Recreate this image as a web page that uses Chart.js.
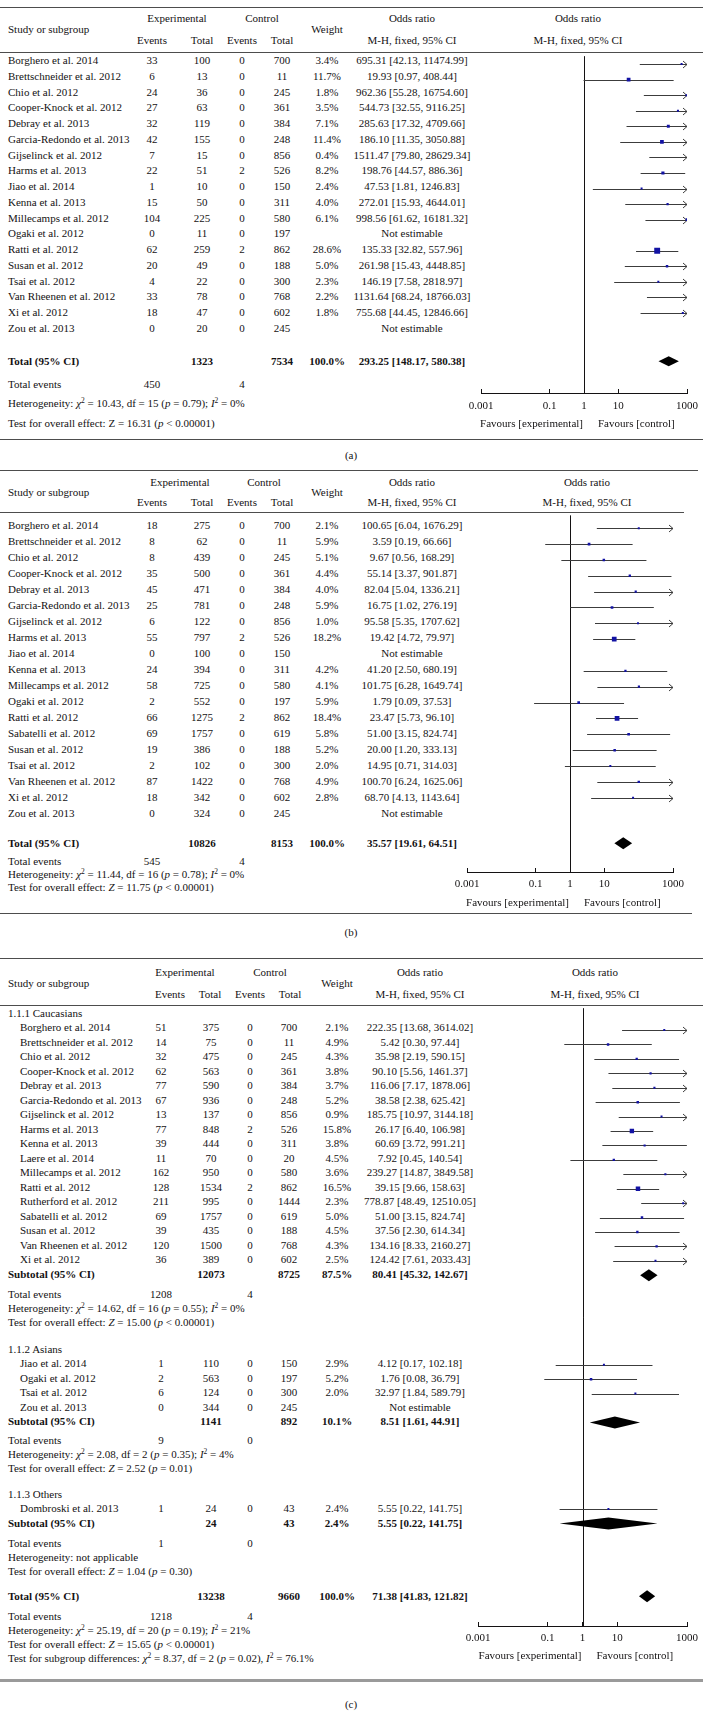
<!DOCTYPE html>
<html>
<head>
<meta charset="utf-8">
<script src="https://cdn.jsdelivr.net/npm/chart.js@4.4.1/dist/chart.umd.min.js"></script>
<style>
body{margin:0;background:#fff}
#page{position:relative;width:703px;height:1714px;overflow:hidden;background:#fff}
.t{position:absolute;font-family:"Liberation Serif",serif;font-size:11px;line-height:16px;height:16px;white-space:nowrap;color:#141213}
.t.b{font-weight:bold}
.t sup{font-size:7.5px;line-height:0;vertical-align:4px}
.rule{position:absolute}
canvas{position:absolute}
</style>
</head>
<body>
<div id="page"></div>
<script>
var tickLabels = [0.001, 0.1, 1, 10, 1000]

// (a)
var aStudy = ['Borghero et al. 2014', 'Brettschneider et al. 2012', 'Chio et al. 2012', 'Cooper-Knock et al. 2012',
  'Debray et al. 2013', 'Garcia-Redondo et al. 2013', 'Gijselinck et al. 2012', 'Harms et al. 2013', 'Jiao et al. 2014',
  'Kenna et al. 2013', 'Millecamps et al. 2012', 'Ogaki et al. 2012', 'Ratti et al. 2012', 'Susan et al. 2012',
  'Tsai et al. 2012', 'Van Rheenen et al. 2012', 'Xi et al. 2012', 'Zou et al. 2013']
var aExpEvents = [33, 6, 24, 27, 32, 42, 7, 22, 1, 15, 104, 0, 62, 20, 4, 33, 18, 0]
var aExpTotal = [100, 13, 36, 63, 119, 155, 15, 51, 10, 50, 225, 11, 259, 49, 22, 78, 47, 20]
var aCtlEvents = [0, 0, 0, 0, 0, 0, 0, 2, 0, 0, 0, 0, 2, 0, 0, 0, 0, 0]
var aCtlTotal = [700, 11, 245, 361, 384, 248, 856, 526, 150, 311, 580, 197, 862, 188, 300, 768, 602, 245]
var aWeight = [3.4, 11.7, 1.8, 3.5, 7.1, 11.4, 0.4, 8.2, 2.4, 4.0, 6.1, null, 28.6, 5.0, 2.3, 2.2, 1.8, null]
var aOR = [695.31, 19.93, 962.36, 544.73, 285.63, 186.10, 1511.47, 198.76, 47.53, 272.01, 998.56, null, 135.33, 261.98, 146.19, 1131.64, 755.68, null]
var aLow = [42.13, 0.97, 55.28, 32.55, 17.32, 11.35, 79.80, 44.57, 1.81, 15.93, 61.62, null, 32.82, 15.43, 7.58, 68.24, 44.45, null]
var aHigh = [11474.99, 408.44, 16754.60, 9116.25, 4709.66, 3050.88, 28629.34, 886.36, 1246.83, 4644.01, 16181.32, null, 557.96, 4448.85, 2818.97, 18766.03, 12846.66, null]
var aSumLabel = ['Total (95% CI)']
var aSumExp = [1323]
var aSumCtl = [7534]
var aSumWeight = [100.0]
var aSumOR = [293.25]
var aSumLow = [148.17]
var aSumHigh = [580.38]
var aSumEvExp = [450]
var aSumEvCtl = [4]
var aHetero = ['Heterogeneity: <i>χ</i><sup>2</sup> = 10.43, df = 15 (<i>p</i> = 0.79); <i>I</i><sup>2</sup> = 0%']
var aEffect = ['Test for overall effect: Z = 16.31 (<i>p</i> &lt; 0.00001)']

// (b)
var bStudy = ['Borghero et al. 2014', 'Brettschneider et al. 2012', 'Chio et al. 2012', 'Cooper-Knock et al. 2012',
  'Debray et al. 2013', 'Garcia-Redondo et al. 2013', 'Gijselinck et al. 2012', 'Harms et al. 2013', 'Jiao et al. 2014',
  'Kenna et al. 2013', 'Millecamps et al. 2012', 'Ogaki et al. 2012', 'Ratti et al. 2012', 'Sabatelli et al. 2012',
  'Susan et al. 2012', 'Tsai et al. 2012', 'Van Rheenen et al. 2012', 'Xi et al. 2012', 'Zou et al. 2013']
var bExpEvents = [18, 8, 8, 35, 45, 25, 6, 55, 0, 24, 58, 2, 66, 69, 19, 2, 87, 18, 0]
var bExpTotal = [275, 62, 439, 500, 471, 781, 122, 797, 100, 394, 725, 552, 1275, 1757, 386, 102, 1422, 342, 324]
var bCtlEvents = [0, 0, 0, 0, 0, 0, 0, 2, 0, 0, 0, 0, 2, 0, 0, 0, 0, 0, 0]
var bCtlTotal = [700, 11, 245, 361, 384, 248, 856, 526, 150, 311, 580, 197, 862, 619, 188, 300, 768, 602, 245]
var bWeight = [2.1, 5.9, 5.1, 4.4, 4.0, 5.9, 1.0, 18.2, null, 4.2, 4.1, 5.9, 18.4, 5.8, 5.2, 2.0, 4.9, 2.8, null]
var bOR = [100.65, 3.59, 9.67, 55.14, 82.04, 16.75, 95.58, 19.42, null, 41.20, 101.75, 1.79, 23.47, 51.00, 20.00, 14.95, 100.70, 68.70, null]
var bLow = [6.04, 0.19, 0.56, 3.37, 5.04, 1.02, 5.35, 4.72, null, 2.50, 6.28, 0.09, 5.73, 3.15, 1.20, 0.71, 6.24, 4.13, null]
var bHigh = [1676.29, 66.66, 168.29, 901.87, 1336.21, 276.19, 1707.62, 79.97, null, 680.19, 1649.74, 37.53, 96.10, 824.74, 333.13, 314.03, 1625.06, 1143.64, null]
var bSumLabel = ['Total (95% CI)']
var bSumExp = [10826]
var bSumCtl = [8153]
var bSumWeight = [100.0]
var bSumOR = [35.57]
var bSumLow = [19.61]
var bSumHigh = [64.51]
var bSumEvExp = [545]
var bSumEvCtl = [4]
var bHetero = ['Heterogeneity: <i>χ</i><sup>2</sup> = 11.44, df = 16 (<i>p</i> = 0.78); <i>I</i><sup>2</sup> = 0%']
var bEffect = ['Test for overall effect: <i>Z</i> = 11.75 (<i>p</i> &lt; 0.00001)']

// (c)
var cGroupName = ['1.1.1 Caucasians', '1.1.2 Asians', '1.1.3 Others']
var cGroup = [0, 0, 0, 0, 0, 0, 0, 0, 0, 0, 0, 0, 0, 0, 0, 0, 0, 1, 1, 1, 1, 2]
var cStudy = ['Borghero et al. 2014', 'Brettschneider et al. 2012', 'Chio et al. 2012', 'Cooper-Knock et al. 2012',
  'Debray et al. 2013', 'Garcia-Redondo et al. 2013', 'Gijselinck et al. 2012', 'Harms et al. 2013', 'Kenna et al. 2013',
  'Laere et al. 2014', 'Millecamps et al. 2012', 'Ratti et al. 2012', 'Rutherford et al. 2012', 'Sabatelli et al. 2012',
  'Susan et al. 2012', 'Van Rheenen et al. 2012', 'Xi et al. 2012',
  'Jiao et al. 2014', 'Ogaki et al. 2012', 'Tsai et al. 2012', 'Zou et al. 2013',
  'Dombroski et al. 2013']
var cExpEvents = [51, 14, 32, 62, 77, 67, 13, 77, 39, 11, 162, 128, 211, 69, 39, 120, 36, 1, 2, 6, 0, 1]
var cExpTotal = [375, 75, 475, 563, 590, 936, 137, 848, 444, 70, 950, 1534, 995, 1757, 435, 1500, 389, 110, 563, 124, 344, 24]
var cCtlEvents = [0, 0, 0, 0, 0, 0, 0, 2, 0, 0, 0, 2, 0, 0, 0, 0, 0, 0, 0, 0, 0, 0]
var cCtlTotal = [700, 11, 245, 361, 384, 248, 856, 526, 311, 20, 580, 862, 1444, 619, 188, 768, 602, 150, 197, 300, 245, 43]
var cWeight = [2.1, 4.9, 4.3, 3.8, 3.7, 5.2, 0.9, 15.8, 3.8, 4.5, 3.6, 16.5, 2.3, 5.0, 4.5, 4.3, 2.5, 2.9, 5.2, 2.0, null, 2.4]
var cOR = [222.35, 5.42, 35.98, 90.10, 116.06, 38.58, 185.75, 26.17, 60.69, 7.92, 239.27, 39.15, 778.87, 51.00, 37.56, 134.16, 124.42, 4.12, 1.76, 32.97, null, 5.55]
var cLow = [13.68, 0.30, 2.19, 5.56, 7.17, 2.38, 10.97, 6.40, 3.72, 0.45, 14.87, 9.66, 48.49, 3.15, 2.30, 8.33, 7.61, 0.17, 0.08, 1.84, null, 0.22]
var cHigh = [3614.02, 97.44, 590.15, 1461.37, 1878.06, 625.42, 3144.18, 106.98, 991.21, 140.54, 3849.58, 158.63, 12510.05, 824.74, 614.34, 2160.27, 2033.43, 102.18, 36.79, 589.79, null, 141.75]
var cSumLabel = ['Subtotal (95% CI)', 'Subtotal (95% CI)', 'Subtotal (95% CI)', 'Total (95% CI)']
var cSumExp = [12073, 1141, 24, 13238]
var cSumCtl = [8725, 892, 43, 9660]
var cSumWeight = [87.5, 10.1, 2.4, 100.0]
var cSumOR = [80.41, 8.51, 5.55, 71.38]
var cSumLow = [45.32, 1.61, 0.22, 41.83]
var cSumHigh = [142.67, 44.91, 141.75, 121.82]
var cSumEvExp = [1208, 9, 1, 1218]
var cSumEvCtl = [4, 0, 0, 4]
var cHetero = ['Heterogeneity: <i>χ</i><sup>2</sup> = 14.62, df = 16 (<i>p</i> = 0.55); <i>I</i><sup>2</sup> = 0%',
  'Heterogeneity: <i>χ</i><sup>2</sup> = 2.08, df = 2 (<i>p</i> = 0.35); <i>I</i><sup>2</sup> = 4%',
  'Heterogeneity: not applicable',
  'Heterogeneity: <i>χ</i><sup>2</sup> = 25.19, df = 20 (<i>p</i> = 0.19); <i>I</i><sup>2</sup> = 21%']
var cEffect = ['Test for overall effect: <i>Z</i> = 15.00 (<i>p</i> &lt; 0.00001)',
  'Test for overall effect: <i>Z</i> = 2.52 (<i>p</i> = 0.01)',
  'Test for overall effect: <i>Z</i> = 1.04 (<i>p</i> = 0.30)',
  'Test for overall effect: <i>Z</i> = 15.65 (<i>p</i> &lt; 0.00001)']
var cSubgroupTest = 'Test for subgroup differences: <i>χ</i><sup>2</sup> = 8.37, df = 2 (<i>p</i> = 0.02), <i>I</i><sup>2</sup> = 76.1%'

var INK = '#141213'
var page = document.getElementById('page')

function put(html, x, y, align, bold) {
  var d = document.createElement('div')
  d.className = bold ? 't b' : 't'
  d.innerHTML = html
  d.style.top = (y - 8) + 'px'
  if (align == 'c') {
    d.style.left = (x - 150) + 'px'; d.style.width = '300px'; d.style.textAlign = 'center'
  } else if (align == 'r') {
    d.style.left = (x - 300) + 'px'; d.style.width = '300px'; d.style.textAlign = 'right'
  } else {
    d.style.left = x + 'px'
  }
  page.appendChild(d)
}

function hline(y, x0, x1, h, color) {
  var d = document.createElement('div')
  d.className = 'rule'
  d.style.top = Math.round(y) + 'px'
  d.style.left = x0 + 'px'
  d.style.width = (x1 - x0) + 'px'
  d.style.height = (h || 1) + 'px'
  d.style.background = color || '#4d4d4d'
  page.appendChild(d)
}

function pct(w) { return w.toFixed(1) + '%' }
function ciText(or, lo, hi) { return or.toFixed(2) + ' [' + lo.toFixed(2) + ', ' + hi.toFixed(2) + ']' }
function squareSide(w) { return Math.max(2, 1.1 * Math.sqrt(w)) }

function forestPlugin(cis, diamonds, half) {
  return {
    id: 'forest',
    beforeDatasetsDraw: function(chart) {
      var xs = chart.scales.x, ys = chart.scales.y, ctx = chart.ctx, area = chart.chartArea
      ctx.save()
      ctx.lineWidth = 1
      var x1 = Math.round(xs.getPixelForValue(1)) + 0.5
      ctx.strokeStyle = INK
      ctx.beginPath(); ctx.moveTo(x1, area.top); ctx.lineTo(x1, area.bottom); ctx.stroke()
      ctx.strokeStyle = '#3c3c3c'
      cis.forEach(function(c) {
        var y = Math.round(ys.getPixelForValue(c.y)) + 0.5
        var xa = xs.getPixelForValue(Math.max(c.lo, xs.min))
        var xb = xs.getPixelForValue(Math.min(c.hi, xs.max))
        ctx.beginPath()
        ctx.moveTo(xa, y); ctx.lineTo(xb, y)
        if (c.hi > xs.max) {
          ctx.moveTo(xb - 4, y - 3.5); ctx.lineTo(xb, y); ctx.lineTo(xb - 4, y + 3.5)
        }
        ctx.stroke()
      })
      ctx.fillStyle = '#000'
      diamonds.forEach(function(d) {
        var y = ys.getPixelForValue(d.y)
        ctx.beginPath()
        ctx.moveTo(xs.getPixelForValue(d.lo), y)
        ctx.lineTo(xs.getPixelForValue(d.or), y - half)
        ctx.lineTo(xs.getPixelForValue(d.hi), y)
        ctx.lineTo(xs.getPixelForValue(d.or), y + half)
        ctx.closePath()
        ctx.fill()
      })
      ctx.restore()
    }
  }
}

function drawPanel(p) {
  var L = p.layout
  var rowY = function(s) { return L.base + s * L.pitch }
  var slotOf = function(y) { return (y - L.base) / L.pitch }
  var c = L.cols, h = L.hcols

  hline(L.top, 0, L.topEnd)
  put('Experimental', L.hExp, L.hy[0], 'c')
  put('Control', L.hCtl, L.hy[0], 'c')
  put('Odds ratio', c[5], L.hy[0], 'c')
  put('Odds ratio', L.hOr2, L.hy[0], 'c')
  put('Study or subgroup', 8, L.hy[1])
  put('Weight', h[4], L.hy[1], 'c')
  put('Events', h[0], L.hy[2], 'c')
  put('Total', h[1], L.hy[2], 'c')
  put('Events', h[2], L.hy[2], 'c')
  put('Total', h[3], L.hy[2], 'c')
  put('M-H, fixed, 95% CI', c[5], L.hy[2], 'c')
  put('M-H, fixed, 95% CI', L.hOr2, L.hy[2], 'c')
  hline(L.rule, 0, L.ruleEnd)

  var slots = [], sumSlots = []
  if (p.group) {
    L.groupSlot.forEach(function(gs, g) {
      put(p.groupName[g], 8, rowY(gs))
      var k = 0
      p.group.forEach(function(gi, i) {
        if (gi == g) { slots[i] = gs + 1 + k; k++ }
      })
      sumSlots.push(gs + 1 + k)
    })
  } else {
    p.study.forEach(function(s, i) { slots[i] = i })
  }
  sumSlots.push(L.totalSlot)

  var pts = [], radii = [], cis = [], diamonds = []
  p.study.forEach(function(name, i) {
    var y = rowY(slots[i])
    put(name, L.nameX, y)
    put(p.expEvents[i], c[0], y, 'c')
    put(p.expTotal[i], c[1], y, 'c')
    put(p.ctlEvents[i], c[2], y, 'c')
    put(p.ctlTotal[i], c[3], y, 'c')
    if (p.or[i] == null) {
      put('Not estimable', c[5], y, 'c')
      return
    }
    put(pct(p.weight[i]), c[4], y, 'c')
    put(ciText(p.or[i], p.low[i], p.high[i]), c[5], y, 'c')
    pts.push({ x: p.or[i], y: slots[i] })
    radii.push(squareSide(p.weight[i]) / Math.SQRT2)
    cis.push({ y: slots[i], lo: p.low[i], hi: p.high[i] })
  })

  p.sumLabel.forEach(function(lab, j) {
    var y = rowY(sumSlots[j])
    put(lab, 8, y, null, true)
    put(p.sumExp[j], c[1], y, 'c', true)
    put(p.sumCtl[j], c[3], y, 'c', true)
    put(pct(p.sumWeight[j]), c[4], y, 'c', true)
    put(ciText(p.sumOR[j], p.sumLow[j], p.sumHigh[j]), c[5], y, 'c', true)
    diamonds.push({ y: sumSlots[j], or: p.sumOR[j], lo: p.sumLow[j], hi: p.sumHigh[j] })
    var f = L.foot[j]
    put('Total events', 8, f[0])
    put(p.sumEvExp[j], c[0], f[0], 'c')
    put(p.sumEvCtl[j], c[2], f[0], 'c')
    put(p.hetero[j], 8, f[1])
    put(p.effect[j], 8, f[2])
  })
  if (p.extra) put(p.extra, 8, L.extraY)

  var padL = 30, padR = 30, axisH = 26
  var canvas = document.createElement('canvas')
  var w = L.plot[1] - L.plot[0] + padL + padR
  var ht = L.axis - L.rule + axisH
  canvas.width = w; canvas.height = ht
  canvas.style.width = w + 'px'; canvas.style.height = ht + 'px'
  canvas.style.left = (L.plot[0] - padL) + 'px'
  canvas.style.top = L.rule + 'px'
  page.appendChild(canvas)

  var chart = new Chart(canvas.getContext('2d'), {
    type: 'scatter',
    data: {
      datasets: [{
        data: pts,
        pointStyle: 'rect',
        pointRadius: radii,
        pointHoverRadius: radii,
        pointBackgroundColor: '#1212a3',
        pointBorderWidth: 0,
        clip: 0
      }]
    },
    options: {
      responsive: false,
      animation: false,
      devicePixelRatio: 1,
      events: [],
      layout: { padding: { left: padL, right: padR, top: 0, bottom: 0 } },
      plugins: { legend: { display: false }, tooltip: { enabled: false } },
      scales: {
        x: {
          type: 'logarithmic',
          position: 'bottom',
          min: 0.001,
          max: 1000,
          afterBuildTicks: function(s) { s.ticks = tickLabels.map(function(v) { return { value: v } }) },
          afterFit: function(s) { s.height = axisH },
          ticks: {
            autoSkip: false,
            maxRotation: 0,
            padding: L.tickPad,
            color: INK,
            font: { family: 'Liberation Serif', size: 11 },
            callback: function(v) { return String(v) }
          },
          grid: { drawOnChartArea: false, tickLength: -4, color: INK },
          border: { color: INK }
        },
        y: { type: 'linear', display: false, reverse: true, min: slotOf(L.rule), max: slotOf(L.axis) }
      }
    },
    plugins: [forestPlugin(cis, diamonds, L.dia)]
  })

  var x1 = L.plot[0] - padL + chart.scales.x.getPixelForValue(1)
  put('Favours [experimental]', x1 - 1, L.favY, 'r')
  put('Favours [control]', x1 + 14, L.favY)

  hline(L.bottom, 0, L.bottomEnd, L.bottomH, L.bottomColor)
  put(L.label, 351, L.labelY, 'c')
}

drawPanel({
  study: aStudy, expEvents: aExpEvents, expTotal: aExpTotal, ctlEvents: aCtlEvents, ctlTotal: aCtlTotal,
  weight: aWeight, or: aOR, low: aLow, high: aHigh,
  sumLabel: aSumLabel, sumExp: aSumExp, sumCtl: aSumCtl, sumWeight: aSumWeight,
  sumOR: aSumOR, sumLow: aSumLow, sumHigh: aSumHigh, sumEvExp: aSumEvExp, sumEvCtl: aSumEvCtl,
  hetero: aHetero, effect: aEffect,
  layout: {
    top: 7, topEnd: 703, hy: [18, 29, 40], rule: 52, ruleEnd: 703,
    base: 60, pitch: 15.75, nameX: 8, totalSlot: 19.1,
    cols: [152, 202, 242, 282, 327, 412], hcols: [152, 202, 242, 282, 327],
    hExp: 177, hCtl: 262, hOr2: 578,
    plot: [481, 687], axis: 393, tickPad: 11, favY: 423, dia: 5,
    foot: [[384, 403, 423]],
    bottom: 439, bottomEnd: 703, label: '(a)', labelY: 455
  }
})

drawPanel({
  study: bStudy, expEvents: bExpEvents, expTotal: bExpTotal, ctlEvents: bCtlEvents, ctlTotal: bCtlTotal,
  weight: bWeight, or: bOR, low: bLow, high: bHigh,
  sumLabel: bSumLabel, sumExp: bSumExp, sumCtl: bSumCtl, sumWeight: bSumWeight,
  sumOR: bSumOR, sumLow: bSumLow, sumHigh: bSumHigh, sumEvExp: bSumEvExp, sumEvCtl: bSumEvCtl,
  hetero: bHetero, effect: bEffect,
  layout: {
    top: 470, topEnd: 698, hy: [482, 492, 502], rule: 512, ruleEnd: 684,
    base: 525, pitch: 16, nameX: 8, totalSlot: 19.875,
    cols: [152, 202, 242, 282, 327, 412], hcols: [152, 202, 242, 282, 327],
    hExp: 180, hCtl: 264, hOr2: 587,
    plot: [467, 673], axis: 872, tickPad: 10, favY: 902, dia: 6,
    foot: [[861, 874, 887]],
    bottom: 913, bottomEnd: 692, label: '(b)', labelY: 932
  }
})

drawPanel({
  group: cGroup, groupName: cGroupName,
  study: cStudy, expEvents: cExpEvents, expTotal: cExpTotal, ctlEvents: cCtlEvents, ctlTotal: cCtlTotal,
  weight: cWeight, or: cOR, low: cLow, high: cHigh,
  sumLabel: cSumLabel, sumExp: cSumExp, sumCtl: cSumCtl, sumWeight: cSumWeight,
  sumOR: cSumOR, sumLow: cSumLow, sumHigh: cSumHigh, sumEvExp: cSumEvExp, sumEvCtl: cSumEvCtl,
  hetero: cHetero, effect: cEffect, extra: cSubgroupTest,
  layout: {
    top: 958, topEnd: 703, hy: [972, 983, 994], rule: 1005, ruleEnd: 703,
    base: 1012.5, pitch: 14.5, nameX: 20, groupSlot: [0, 23.2, 33.2], totalSlot: 40.25,
    cols: [161, 211, 250, 289, 337, 420], hcols: [170, 210, 250, 290, 337],
    hExp: 185, hCtl: 270, hOr2: 595,
    plot: [478, 687], axis: 1626, tickPad: 9.5, favY: 1655, dia: 6,
    foot: [[1294, 1308, 1322], [1440, 1454, 1468], [1543, 1557, 1571], [1616, 1630, 1644]],
    extraY: 1658,
    bottom: 1679, bottomEnd: 703, bottomH: 3, bottomColor: '#9a9a9a', label: '(c)', labelY: 1704
  }
})
</script>
</body>
</html>
